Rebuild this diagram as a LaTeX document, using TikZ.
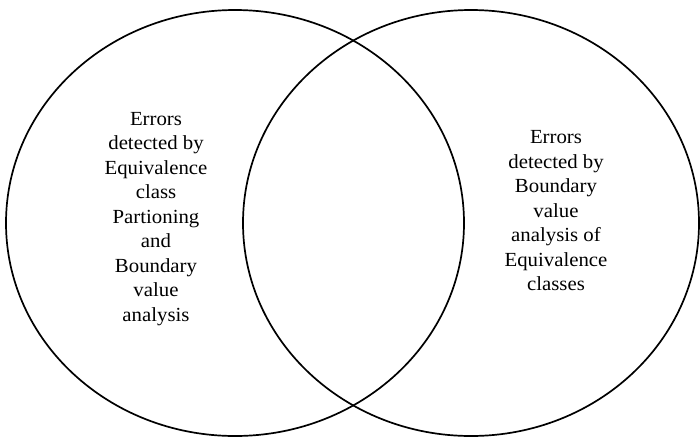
\documentclass[tikz,border=0pt]{standalone}
\usepackage{fontspec}
\setmainfont{Liberation Serif}[FakeStretch=1.04]
\begin{document}
\begin{tikzpicture}[x=1pt,y=-1pt,
  vennline/.style={draw=black, line width=1.7pt},
  lbl/.style={align=center, inner sep=0pt, font=\fontsize{20}{24.5}\selectfont}]
\useasboundingbox (0,0) rectangle (700,437);
\draw[vennline] (235,223) ellipse [x radius=229, y radius=213];
\draw[vennline] (471,223) ellipse [x radius=228, y radius=213];
\node[lbl] (left) at (156,219) {Errors\\detected by\\Equivalence\\class\\Partioning\\and\\Boundary\\value\\analysis};
\node[lbl] (right) at (556,211) {Errors\\detected by\\Boundary\\value\\analysis of\\Equivalence\\classes};
\end{tikzpicture}
\end{document}
